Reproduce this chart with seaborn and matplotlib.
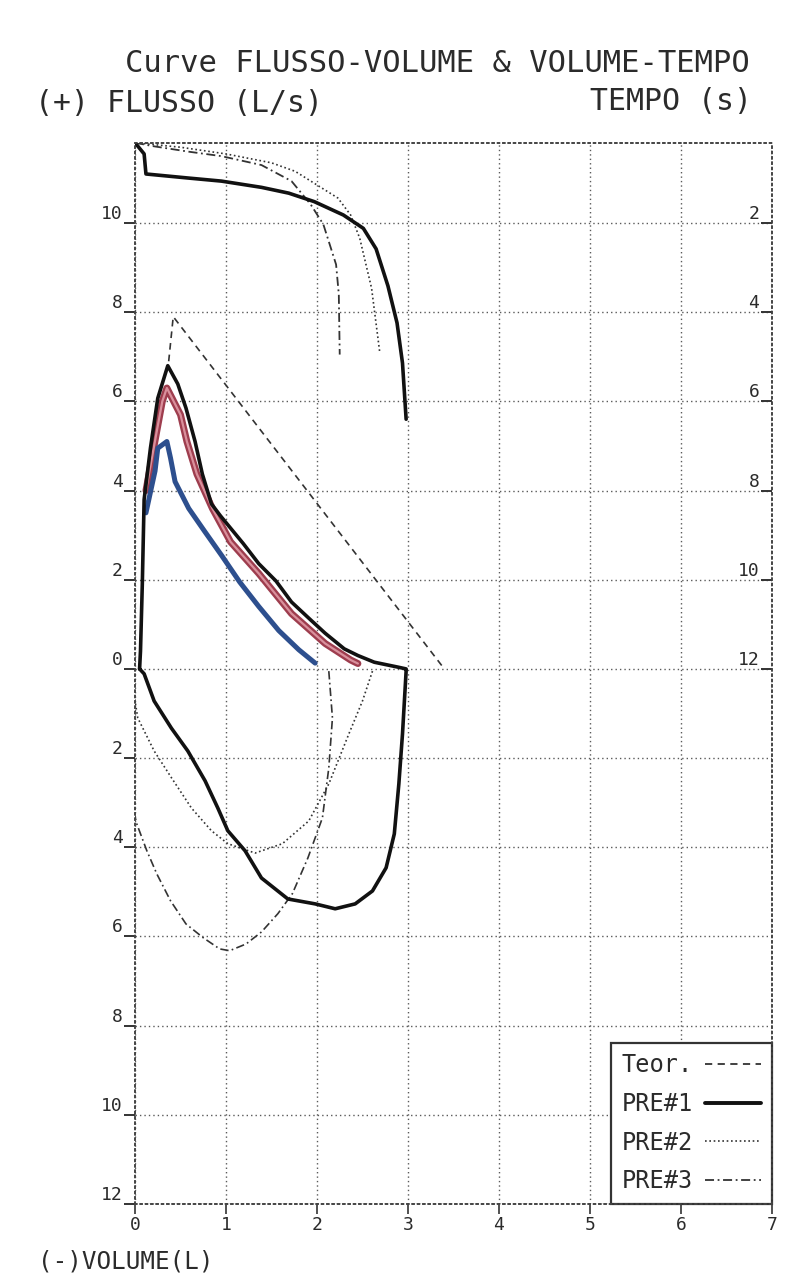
import matplotlib
matplotlib.use("Agg")
import matplotlib.pyplot as plt
from matplotlib.lines import Line2D
import seaborn as sns

# ---------------- data ----------------
vol_ticks = [0, 1, 2, 3, 4, 5, 6, 7]
flow_ticks = [-12, -10, -8, -6, -4, -2, 0, 2, 4, 6, 8, 10]
time_ticks = [2, 4, 6, 8, 10, 12]

# Theoretical (Teor.) expiratory flow-volume line
teor_vol = [0.37, 0.42, 3.40]
teor_flow = [6.9, 7.9, 0.0]

# PRE#1 flow-volume loop (expiration then inspiration)
pre1_exp_vol = [0.05, 0.06, 0.08, 0.10, 0.17, 0.25, 0.36, 0.47, 0.56, 0.66, 0.74, 0.84,
                0.94, 1.19, 1.36, 1.55, 1.72, 1.93, 2.09, 2.30, 2.45, 2.63, 2.89, 2.98]
pre1_exp_flow = [0.0, 0.4, 1.9, 3.8, 4.96, 6.07, 6.8, 6.39, 5.85, 5.1, 4.37, 3.7,
                 3.43, 2.81, 2.36, 1.97, 1.5, 1.1, 0.8, 0.45, 0.3, 0.15, 0.04, 0.0]
pre1_insp_vol = [2.98, 2.94, 2.90, 2.85, 2.76, 2.61, 2.42, 2.20, 1.98, 1.68, 1.39, 1.21,
                 1.02, 0.91, 0.77, 0.58, 0.40, 0.21, 0.10, 0.05]
pre1_insp_flow = [-0.05, -1.46, -2.58, -3.7, -4.46, -4.98, -5.27, -5.38, -5.27, -5.16, -4.69, -4.08,
                  -3.63, -3.12, -2.51, -1.84, -1.33, -0.72, -0.11, 0.0]

# PRE#2 flow-volume
pre2_exp_vol = [0.12, 0.24, 0.30, 0.35, 0.50, 0.57, 0.68, 0.85, 1.05, 1.36, 1.72, 2.09, 2.37, 2.45]
pre2_exp_flow = [4.0, 5.34, 6.0, 6.3, 5.7, 5.1, 4.37, 3.6, 2.85, 2.14, 1.24, 0.57, 0.2, 0.12]
pre2_insp_vol = [2.61, 2.50, 2.35, 2.13, 1.91, 1.62, 1.32, 1.02, 0.84, 0.62, 0.40, 0.21, 0.03, -0.03, -0.02]
pre2_insp_flow = [-0.05, -0.72, -1.46, -2.58, -3.41, -3.92, -4.13, -3.92, -3.63, -3.12, -2.44, -1.84, -1.1, -0.34, 0.0]

# PRE#3 flow-volume
pre3_exp_vol = [0.12, 0.22, 0.25, 0.35, 0.39, 0.44, 0.59, 0.76, 0.95, 1.15, 1.36, 1.58, 1.80, 1.98]
pre3_exp_flow = [3.5, 4.44, 4.95, 5.1, 4.73, 4.2, 3.6, 3.1, 2.55, 1.95, 1.4, 0.86, 0.43, 0.13]
pre3_insp_vol = [2.13, 2.17, 2.13, 2.06, 1.90, 1.73, 1.57, 1.39, 1.22, 1.04, 0.93, 0.75, 0.56,
                 0.39, 0.24, 0.13, 0.02, -0.07, -0.10, -0.12, -0.06]
pre3_insp_flow = [-0.05, -1.1, -2.22, -3.34, -4.24, -5.04, -5.49, -5.9, -6.17, -6.32, -6.28, -6.03, -5.72,
                  -5.2, -4.6, -4.08, -3.48, -2.74, -2.3, -1.4, -0.4]

# Volume-time curves (time in s, right axis)
pre1_vt_vol = [0.0, 0.10, 0.12, 0.58, 0.95, 1.39, 1.69, 1.97, 2.29, 2.51, 2.65, 2.78, 2.88, 2.94, 2.98]
pre1_vt_time = [0.2, 0.45, 0.9, 0.99, 1.06, 1.2, 1.33, 1.52, 1.82, 2.12, 2.58, 3.41, 4.24, 5.14, 6.4]
pre2_vt_vol = [0.0, 0.5, 1.0, 1.5, 1.76, 2.23, 2.37, 2.47, 2.60, 2.69]
pre2_vt_time = [0.2, 0.3, 0.45, 0.65, 0.84, 1.44, 1.82, 2.34, 3.46, 4.9]
pre3_vt_vol = [0.0, 0.21, 0.59, 0.95, 1.39, 1.72, 1.93, 2.07, 2.14, 2.21, 2.24, 2.25]
pre3_vt_time = [0.2, 0.28, 0.4, 0.5, 0.7, 1.06, 1.58, 2.03, 2.48, 2.93, 3.6, 4.95]

legend_labels = ["Teor.", "PRE#1", "PRE#2", "PRE#3"]

# ---------------- style ----------------
sns.set_theme(style="white")
plt.rcParams["font.family"] = ["DejaVu Sans Mono", "DejaVu Sans"]
TXT = "#2b2b2b"
GRID = "#5a5a5a"
DOT = (0, (1, 2.2))
TEOR_LS = (0, (4, 3))
PRE2_LS = (0, (1, 1.6))
PRE3_LS = (0, (5, 2, 1, 2))
RED = "#9e3d4e"
PINK = "#d9909c"
BLUE = "#2d4f8e"

fig = plt.figure(figsize=(7.99, 12.77), dpi=100)
ax = fig.add_axes([0.169, 0.0572, 0.797, 0.831])
ax.set_xlim(0, 7)
ax.set_ylim(-12, 11.8)
ax2 = ax.twinx()
ax2.set_ylim(24, 0.2)


def line(axis, x, y, **kw):
    sns.lineplot(x=x, y=y, ax=axis, sort=False, estimator=None, legend=False, **kw)


# Flow-volume curves
line(ax, teor_vol, teor_flow, color="#333333", lw=1.2, linestyle=TEOR_LS)
line(ax, pre2_insp_vol, pre2_insp_flow, color="#333333", lw=1.2, linestyle=PRE2_LS)
line(ax, pre3_insp_vol, pre3_insp_flow, color="#333333", lw=1.2, linestyle=PRE3_LS)
line(ax, pre2_exp_vol, pre2_exp_flow, color=RED, lw=5.0)
line(ax, pre2_exp_vol, pre2_exp_flow, color=PINK, lw=1.6)
line(ax, pre3_exp_vol, pre3_exp_flow, color=BLUE, lw=3.6)
line(ax, pre1_exp_vol + pre1_insp_vol, pre1_exp_flow + pre1_insp_flow, color="#111111", lw=2.6)

# Volume-time curves
line(ax2, pre2_vt_vol, pre2_vt_time, color="#333333", lw=1.2, linestyle=PRE2_LS)
line(ax2, pre3_vt_vol, pre3_vt_time, color="#333333", lw=1.3, linestyle=PRE3_LS)
line(ax2, pre1_vt_vol, pre1_vt_time, color="#111111", lw=2.6)

# ---------------- axes ----------------
for a in (ax, ax2):
    a.set_xlabel("")
    a.set_ylabel("")
    for s in a.spines.values():
        s.set_linestyle(DOT)
        s.set_color("#444444")
        s.set_linewidth(1.2)

ax.set_xticks(vol_ticks)
ax.set_xticklabels([str(v) for v in vol_ticks])
ax.set_yticks(flow_ticks)
ax.set_yticklabels([str(abs(f)) for f in flow_ticks])
ax.grid(True, color=GRID, linestyle=DOT, linewidth=1.0)
ax.set_axisbelow(True)
ax.tick_params(axis="x", direction="out", length=7, width=1.2, color="#333333",
               labelsize=13, labelcolor=TXT, pad=2, bottom=True)
ax.tick_params(axis="y", direction="out", length=8, width=1.4, color="#333333",
               labelsize=13, labelcolor=TXT, pad=1, left=True)
for lab in ax.get_yticklabels():
    lab.set_verticalalignment("bottom")

ax2.set_yticks(time_ticks)
ax2.set_yticklabels([str(t) for t in time_ticks])
ax2.tick_params(axis="y", direction="in", length=8, width=1.4, color="#333333",
                labelsize=13, labelcolor=TXT, pad=-9, right=True)
for lab in ax2.get_yticklabels():
    lab.set_horizontalalignment("right")
    lab.set_verticalalignment("bottom")
ax2.grid(False)

# ---------------- texts ----------------
fig.text(125 / 799, 1 - 64 / 1277, "Curve FLUSSO-VOLUME & VOLUME-TEMPO",
         fontsize=22, color=TXT, ha="left", va="center")
fig.text(35 / 799, 1 - 104 / 1277, "(+) FLUSSO (L/s)",
         fontsize=21.5, color=TXT, ha="left", va="center")
fig.text(752 / 799, 1 - 101 / 1277, "TEMPO (s)",
         fontsize=21.5, color=TXT, ha="right", va="center")
fig.text(38 / 799, 1 - 1262 / 1277, "(-)VOLUME(L)",
         fontsize=17.5, color=TXT, ha="left", va="center")

# ---------------- legend ----------------
handles = [
    Line2D([], [], color="#333333", lw=1.3, linestyle=TEOR_LS),
    Line2D([], [], color="#111111", lw=2.8),
    Line2D([], [], color="#333333", lw=1.2, linestyle=PRE2_LS),
    Line2D([], [], color="#333333", lw=1.3, linestyle=PRE3_LS),
]
leg = ax.legend(handles, legend_labels, loc="lower right", bbox_to_anchor=(1.0, 0.0),
                borderaxespad=0.0, markerfirst=False, fontsize=17, handlelength=2.4,
                handletextpad=0.5, labelspacing=0.62, borderpad=0.45,
                frameon=True, fancybox=False, framealpha=1.0)
leg.get_frame().set_edgecolor("#333333")
leg.get_frame().set_linewidth(1.6)
for t in leg.get_texts():
    t.set_color(TXT)

fig.savefig("out.png", dpi=100, facecolor="white")
